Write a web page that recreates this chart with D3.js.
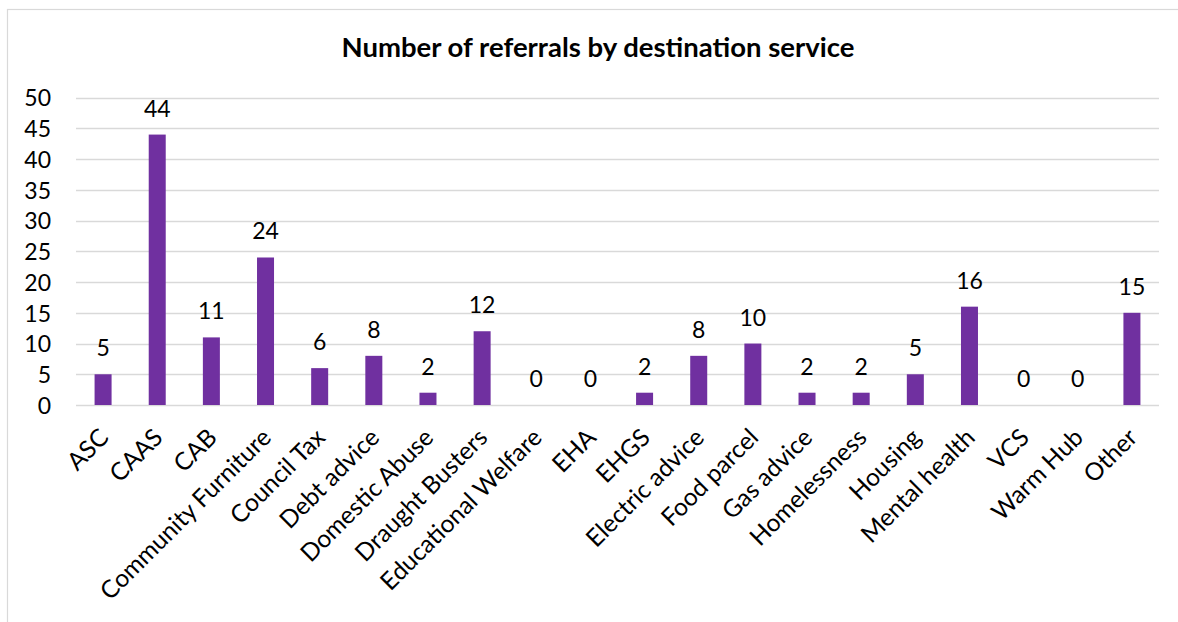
<!DOCTYPE html>
<html>
<head>
<meta charset="utf-8">
<script src="https://cdn.jsdelivr.net/npm/d3@7/dist/d3.min.js"></script>
<style>
  html, body { margin: 0; padding: 0; background: #fff; }
  svg { display: block; }
  text { font-family: Lato, "Open Sans", sans-serif; fill: #000; }
</style>
</head>
<body>
<svg id="chart" width="1178" height="622"></svg>
<script>
// Referral counts per destination service
const categories = ["ASC", "CAAS", "CAB", "Community Furniture", "Council Tax", "Debt advice",
  "Domestic Abuse", "Draught Busters", "Educational Welfare", "EHA", "EHGS", "Electric advice",
  "Food parcel", "Gas advice", "Homelessness", "Housing", "Mental health", "VCS", "Warm Hub", "Other"];
const referrals = [5, 44, 11, 24, 6, 8, 2, 12, 0, 0, 2, 8, 10, 2, 2, 5, 16, 0, 0, 15];
const yTicks = [0, 5, 10, 15, 20, 25, 30, 35, 40, 45, 50];
const chartTitle = "Number of referrals by destination service";

const svg = d3.select("#chart");
const W = 1178, H = 622;
const plot = { left: 76, right: 1159, top: 97.7, bottom: 405 };

// outer frame (only left and top edges fall inside the canvas)
svg.append("rect")
  .attr("x", 7.5).attr("y", 9.5)
  .attr("width", W + 20).attr("height", H + 20)
  .attr("fill", "#fff").attr("stroke", "#d9d9d9").attr("stroke-width", 1.2);

const x = d3.scaleBand()
  .domain(categories)
  .range([plot.left, plot.right])
  .paddingInner(0.686)
  .paddingOuter(0.343);

const y = d3.scaleLinear()
  .domain([0, 50])
  .range([plot.bottom, plot.top]);

// horizontal gridlines
svg.append("g")
  .selectAll("line")
  .data(yTicks)
  .join("line")
  .attr("x1", plot.left).attr("x2", plot.right)
  .attr("y1", d => Math.round(y(d)) + 0.5).attr("y2", d => Math.round(y(d)) + 0.5)
  .attr("stroke", "#d9d9d9").attr("stroke-width", 1.3);

// y axis labels
const yAxis = d3.axisLeft(y).tickValues(yTicks).tickSize(0).tickPadding(0);
const gy = svg.append("g").attr("transform", "translate(51,0)").call(yAxis);
gy.select(".domain").remove();
gy.selectAll("text")
  .attr("font-size", 23)
  .attr("font-family", "Lato, 'Open Sans', sans-serif")
  .attr("fill", "#000")
  .attr("dy", "0.36em");

// bars
svg.append("g")
  .selectAll("rect")
  .data(referrals)
  .join("rect")
  .attr("x", (d, i) => x(categories[i]))
  .attr("width", x.bandwidth())
  .attr("y", d => y(d))
  .attr("height", d => y(0) - y(d))
  .attr("fill", "#7030a0");

// value labels
svg.append("g")
  .selectAll("text")
  .data(referrals)
  .join("text")
  .attr("x", (d, i) => x(categories[i]) + x.bandwidth() / 2)
  .attr("y", d => y(d) - 18)
  .attr("text-anchor", "middle")
  .attr("font-size", 23)
  .text(d => d);

// category labels, rotated
const xAxis = d3.axisBottom(x).tickSize(0).tickPadding(0);
const gx = svg.append("g").attr("transform", `translate(0,${plot.bottom})`).call(xAxis);
gx.select(".domain").remove();
gx.selectAll(".tick text")
  .attr("font-size", 24.5)
  .attr("font-family", "Lato, 'Open Sans', sans-serif")
  .attr("fill", "#000")
  .attr("text-anchor", "end")
  .attr("dy", 0)
  .attr("y", 0)
  .attr("transform", "translate(7,34) rotate(-45)");

// title
svg.append("text")
  .attr("x", 598).attr("y", 57)
  .attr("text-anchor", "middle")
  .attr("font-size", 27.5)
  .attr("font-weight", "bold")
  .text(chartTitle);
</script>
</body>
</html>
